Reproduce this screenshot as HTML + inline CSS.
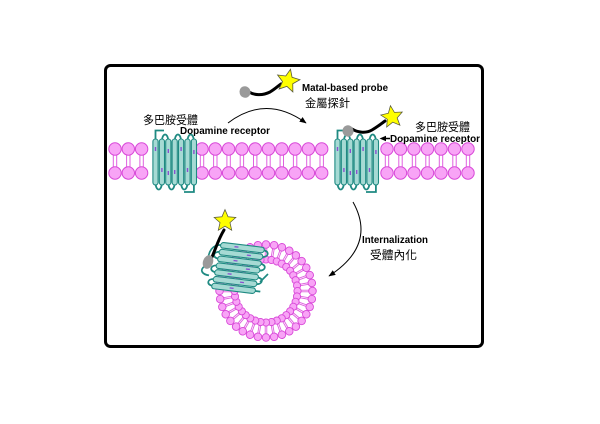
<!DOCTYPE html>
<html>
<head>
<meta charset="utf-8">
<style>
html,body{margin:0;padding:0;background:#fff;}
body{width:600px;height:424px;overflow:hidden;}
svg{display:block;}
.en{font-family:"Liberation Sans",Arial,sans-serif;font-weight:bold;font-size:10px;fill:#000;}
.cj{font-family:"Liberation Sans","Noto Sans CJK TC","Noto Sans CJK SC",sans-serif;font-size:11.5px;fill:#000;}
</style>
</head>
<body>
<svg width="600" height="424" viewBox="0 0 600 424" xmlns="http://www.w3.org/2000/svg">
<defs>
  <marker id="ah" viewBox="0 0 10 10" refX="9" refY="5" markerWidth="7" markerHeight="7" orient="auto">
    <path d="M0,1 L10,5 L0,9 z" fill="#000"/>
  </marker>
  <g id="L">
    <line x1="-1.7" y1="154" x2="-1.7" y2="168" stroke="#e060e0" stroke-width="1"/>
    <line x1="1.7" y1="154" x2="1.7" y2="168" stroke="#e060e0" stroke-width="1"/>
    <circle cx="0" cy="149" r="6.2" fill="#f8a4f6" stroke="#d848d8" stroke-width="1"/>
    <circle cx="0" cy="173" r="6.2" fill="#f8a4f6" stroke="#d848d8" stroke-width="1"/>
  </g>
  <g id="V">
    <line x1="-0.8" y1="-35" x2="-0.8" y2="-43" stroke="#e060e0" stroke-width="0.9"/>
    <line x1="0.8" y1="-35" x2="0.8" y2="-43" stroke="#e060e0" stroke-width="0.9"/>
    <circle cx="0" cy="-31.5" r="3.6" fill="#f8a4f6" stroke="#d848d8" stroke-width="0.9"/>
    <circle cx="0" cy="-46.5" r="3.8" fill="#f8a4f6" stroke="#d848d8" stroke-width="0.9"/>
  </g>
  <path id="star" d="M0,-12 L3.23,-4.45 L11.41,-3.71 L5.23,1.7 L7.05,9.71 L0,5.5 L-7.05,9.71 L-5.23,1.7 L-11.41,-3.71 L-3.23,-4.45 Z" fill="#ffff00" stroke="#5a5a3a" stroke-width="0.8"/>
  <g id="P">
    <g fill="none" stroke="#1f8a82" stroke-width="1.8">
      <path d="M161.9 142 C161.9 132, 168.3 132, 168.3 142"/>
      <path d="M174.7 142 C174.7 132, 181.1 132, 181.1 142"/>
      <path d="M187.5 142 C187.5 132, 193.9 132, 193.9 142"/>
      <path d="M155.5 182 C155.5 192, 161.9 192, 161.9 182"/>
      <path d="M168.3 182 C168.3 192, 174.7 192, 174.7 182"/>
      <path d="M181.1 182 C181.1 192, 187.5 192, 187.5 182"/>
      <path d="M155.5 141 L155.5 130.5 L164 130.5"/>
      <path d="M193.9 183 L193.9 192 L184 192"/>
    </g>
    <g fill="#a6dad4" stroke="#1f8a82" stroke-width="1.1">
      <rect x="152.9" y="139" width="5.2" height="46" rx="2.6"/>
      <rect x="159.3" y="139" width="5.2" height="46" rx="2.6"/>
      <rect x="165.7" y="139" width="5.2" height="46" rx="2.6"/>
      <rect x="172.1" y="139" width="5.2" height="46" rx="2.6"/>
      <rect x="178.5" y="139" width="5.2" height="46" rx="2.6"/>
      <rect x="184.9" y="139" width="5.2" height="46" rx="2.6"/>
      <rect x="191.3" y="139" width="5.2" height="46" rx="2.6"/>
    </g>
    <g stroke="#8a50d0" stroke-width="1.4">
      <line x1="155.5" y1="147" x2="155.5" y2="151"/><line x1="161.9" y1="168" x2="161.9" y2="172"/>
      <line x1="168.3" y1="149" x2="168.3" y2="153"/><line x1="174.7" y1="170" x2="174.7" y2="174"/>
      <line x1="181.1" y1="147" x2="181.1" y2="151"/><line x1="187.5" y1="168" x2="187.5" y2="172"/>
      <line x1="193.9" y1="150" x2="193.9" y2="154"/><line x1="168.3" y1="171" x2="168.3" y2="175"/>
    </g>
  </g>
</defs>

<rect x="105.5" y="65.5" width="377" height="281" rx="5" ry="5" fill="#fff" stroke="#000" stroke-width="3"/>

<!-- flat membrane -->
<use href="#L" x="115"/><use href="#L" x="128.3"/><use href="#L" x="141.6"/>
<use href="#L" x="202"/><use href="#L" x="215.3"/><use href="#L" x="228.6"/><use href="#L" x="241.9"/><use href="#L" x="255.2"/>
<use href="#L" x="268.5"/><use href="#L" x="281.8"/><use href="#L" x="295.1"/><use href="#L" x="308.4"/><use href="#L" x="321.7"/>
<use href="#L" x="387"/><use href="#L" x="400.5"/><use href="#L" x="414"/><use href="#L" x="427.5"/><use href="#L" x="441"/><use href="#L" x="454.5"/><use href="#L" x="468"/>

<!-- proteins in membrane -->
<use href="#P"/>
<use href="#P" x="182"/>

<!-- vesicle -->
<g transform="translate(266,291)">
  <use href="#V" transform="rotate(0)"/><use href="#V" transform="rotate(10)"/><use href="#V" transform="rotate(20)"/><use href="#V" transform="rotate(30)"/>
  <use href="#V" transform="rotate(40)"/><use href="#V" transform="rotate(50)"/><use href="#V" transform="rotate(60)"/><use href="#V" transform="rotate(70)"/>
  <use href="#V" transform="rotate(80)"/><use href="#V" transform="rotate(90)"/><use href="#V" transform="rotate(100)"/><use href="#V" transform="rotate(110)"/>
  <use href="#V" transform="rotate(120)"/><use href="#V" transform="rotate(130)"/><use href="#V" transform="rotate(140)"/><use href="#V" transform="rotate(150)"/>
  <use href="#V" transform="rotate(160)"/><use href="#V" transform="rotate(170)"/><use href="#V" transform="rotate(180)"/><use href="#V" transform="rotate(190)"/>
  <use href="#V" transform="rotate(200)"/><use href="#V" transform="rotate(210)"/><use href="#V" transform="rotate(220)"/><use href="#V" transform="rotate(230)"/>
  <use href="#V" transform="rotate(240)"/><use href="#V" transform="rotate(250)"/><use href="#V" transform="rotate(260)"/><use href="#V" transform="rotate(270)"/>
  <use href="#V" transform="rotate(280)"/><use href="#V" transform="rotate(290)"/><use href="#V" transform="rotate(300)"/><use href="#V" transform="rotate(310)"/>
  <use href="#V" transform="rotate(320)"/><use href="#V" transform="rotate(330)"/><use href="#V" transform="rotate(340)"/><use href="#V" transform="rotate(350)"/>
</g>

<!-- internalized protein -->
<g transform="matrix(0.99,0.12,-0.23,1.06,238,268)">
  <g fill="none" stroke="#1f8a82" stroke-width="1.7">
    <path d="M21 -19.2 C28 -19.2, 28 -12.8, 21 -12.8"/>
    <path d="M21 -6.4 C28 -6.4, 28 0, 21 0"/>
    <path d="M21 6.4 C28 6.4, 28 12.8, 21 12.8"/>
    <path d="M-21 -12.8 C-28 -12.8, -28 -6.4, -21 -6.4"/>
    <path d="M-21 0 C-28 0, -28 6.4, -21 6.4"/>
    <path d="M-21 12.8 C-28 12.8, -28 19.2, -21 19.2"/>
    <path d="M-21 -19.2 C-30 -19.2, -33 -12, -31 -3"/>
    <path d="M-33 2 C-38 6, -34 10, -27 10"/>
    <path d="M21 19.2 L27 19.2"/>
  </g>
  <g fill="#a6dad4" stroke="#1f8a82" stroke-width="1">
    <rect x="-22" y="-21.8" width="44" height="5.2" rx="2.6"/>
    <rect x="-22" y="-15.4" width="44" height="5.2" rx="2.6"/>
    <rect x="-22" y="-9" width="44" height="5.2" rx="2.6"/>
    <rect x="-22" y="-2.6" width="44" height="5.2" rx="2.6"/>
    <rect x="-22" y="3.8" width="44" height="5.2" rx="2.6"/>
    <rect x="-22" y="10.2" width="44" height="5.2" rx="2.6"/>
    <rect x="-22" y="16.6" width="44" height="5.2" rx="2.6"/>
  </g>
  <g stroke="#8a50d0" stroke-width="1.2">
    <line x1="-8" y1="-19.2" x2="-4" y2="-19.2"/><line x1="6" y1="-12.8" x2="10" y2="-12.8"/>
    <line x1="-6" y1="-6.4" x2="-2" y2="-6.4"/><line x1="8" y1="0" x2="12" y2="0"/>
    <line x1="-9" y1="6.4" x2="-5" y2="6.4"/><line x1="5" y1="12.8" x2="9" y2="12.8"/>
    <line x1="-4" y1="19.2" x2="0" y2="19.2"/>
  </g>
</g>
<path d="M260 282 L268 274" stroke="#1f8a82" stroke-width="1.7" fill="none"/>

<!-- probes -->
<path d="M249 92 C254 95, 262 96, 270 92 C275 89, 278 86, 281 84" fill="none" stroke="#000" stroke-width="3" stroke-linecap="round"/>
<ellipse cx="245" cy="92" rx="5.5" ry="5.8" transform="rotate(-20 245 92)" fill="#9a9a9a"/>
<use href="#star" transform="translate(288,81) rotate(12)"/>

<path d="M352 129 C357 132, 365 134, 372 130 C377 127, 381 124, 385 121" fill="none" stroke="#000" stroke-width="3" stroke-linecap="round"/>
<ellipse cx="348" cy="131" rx="5.5" ry="5.7" transform="rotate(-20 348 131)" fill="#9a9a9a"/>
<use href="#star" transform="translate(392,117) rotate(-8) scale(0.95)"/>

<path d="M212 257 C216 248, 218 240, 224 230" fill="none" stroke="#000" stroke-width="3" stroke-linecap="round"/>
<ellipse cx="208" cy="262" rx="5" ry="7" transform="rotate(20 208 262)" fill="#9a9a9a"/>
<use href="#star" transform="translate(225,221) rotate(0) scale(0.95)"/>

<!-- arrows -->
<path d="M228 123 Q266 94 306 123" fill="none" stroke="#000" stroke-width="1" marker-end="url(#ah)"/>
<path d="M353 202 Q377 245 329 276" fill="none" stroke="#000" stroke-width="1" marker-end="url(#ah)"/>
<line x1="384" y1="138.5" x2="390" y2="138.5" stroke="#000" stroke-width="1.5"/>
<polygon points="379.5,138.5 386,135.8 386,141.2" fill="#000"/>

<!-- labels -->
<text class="cj" x="143" y="124" textLength="55" lengthAdjust="spacingAndGlyphs">多巴胺受體</text>
<text class="en" x="180" y="134" textLength="90" lengthAdjust="spacingAndGlyphs">Dopamine receptor</text>
<text class="en" x="302" y="91" textLength="86" lengthAdjust="spacingAndGlyphs">Matal-based probe</text>
<text class="cj" x="305" y="107" textLength="45" lengthAdjust="spacingAndGlyphs">金屬探針</text>
<text class="cj" x="415" y="131" textLength="55" lengthAdjust="spacingAndGlyphs">多巴胺受體</text>
<text class="en" x="390" y="142" textLength="90" lengthAdjust="spacingAndGlyphs">Dopamine receptor</text>
<text class="en" x="362" y="243" textLength="66" lengthAdjust="spacingAndGlyphs">Internalization</text>
<text class="cj" x="370" y="259" textLength="47" lengthAdjust="spacingAndGlyphs">受體內化</text>
</svg>
</body>
</html>
